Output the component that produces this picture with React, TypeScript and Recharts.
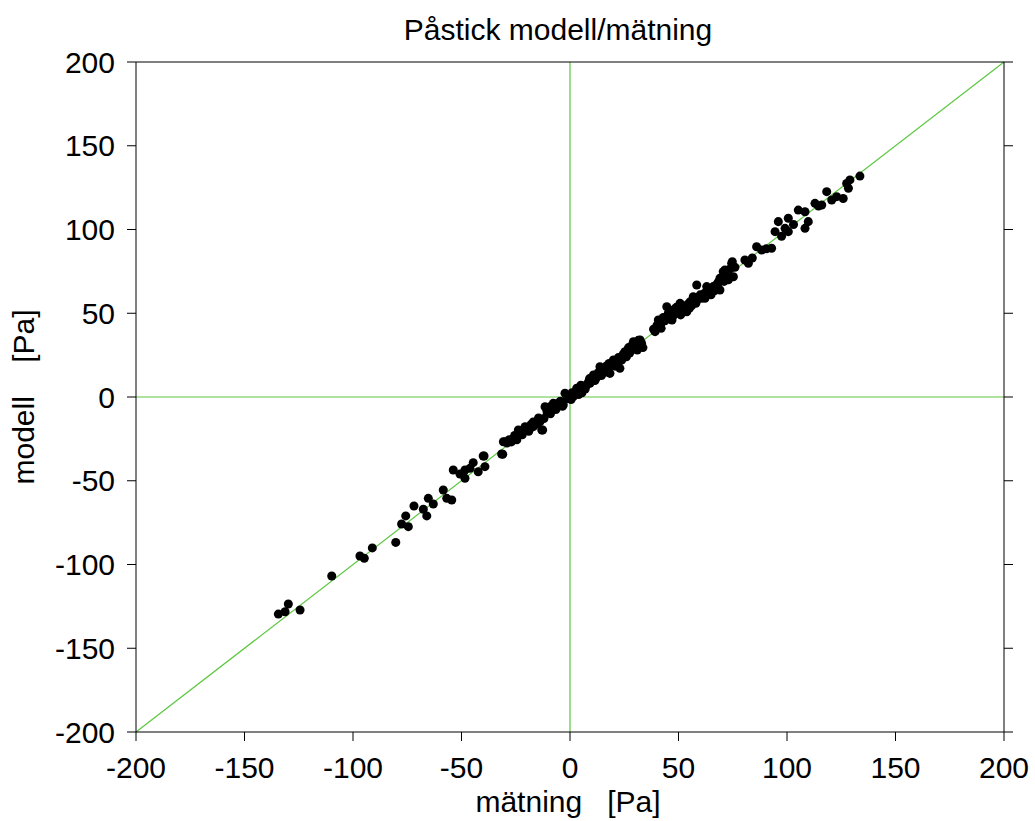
import {
  ScatterChart,
  Scatter,
  XAxis,
  YAxis,
  ZAxis,
  ReferenceLine,
} from "recharts";

// mätning [Pa]
const measured = [
  -134.4, -131.3, -129.8, -124.4, -109.8, -96.8, -94.8, -91.1, -80.3, -77.6,
  -75.7, -74.5, -71.9, -67.6, -66.0, -65.3, -63.0, -58.4, -56.8, -54.5,
  -53.8, -50.7, -48.4, -48.4, -46.1, -44.6, -42.3, -40.0, -39.6, -39.2,
  -31.5, -31.0, -30.7, -30.0, -29.0, -28.0, -27.0, -26.1, -25.5, -24.5,
  -23.8, -23.0, -22.0, -21.5, -20.7, -20.0, -19.0, -18.0, -16.9, -15.5,
  -14.5, -13.8, -13.0, -12.6, -12.0, -11.5, -10.7, -10.5, -9.2, -9.0,
  -8.5, -8.0, -7.7, -6.5, -5.5, -4.5, -3.5, -3.1, -2.3, -1.5,
  -0.5, 0.5, 1.5, 2.5, 3.1, 4.0, 4.8, 5.5, 6.1, 6.2,
  7.0, 7.7, 8.5, 9.2, 10.0, 10.8, 11.5, 12.2, 13.0, 13.8,
  14.5, 15.2, 16.0, 16.8, 17.5, 18.4, 19.0, 20.0, 20.8, 21.5,
  22.3, 23.0, 23.8, 24.5, 25.3, 26.0, 26.8, 27.5, 28.3, 29.2,
  30.0, 30.8, 31.5, 32.3, 32.3, 33.0, 33.6, 38.5, 39.2, 40.0,
  40.7, 41.5, 42.3, 43.0, 43.8, 44.6, 45.3, 46.1, 46.8, 47.5,
  48.3, 49.0, 49.8, 50.7, 51.5, 52.3, 53.0, 53.8, 54.5, 55.3,
  56.0, 56.8, 57.5, 58.4, 59.0, 60.0, 60.8, 61.4, 62.2, 63.0,
  63.8, 64.5, 65.2, 66.0, 66.8, 67.5, 68.3, 69.1, 69.1, 70.6,
  71.4, 72.2, 73.0, 73.8, 74.5, 74.8, 75.3, 76.0, 80.6, 82.2,
  84.0, 86.0, 88.3, 90.5, 92.9, 94.5, 96.0, 97.5, 99.1, 100.6,
  100.6, 103.0, 105.2, 108.3, 108.3, 109.8, 112.9, 114.5, 116.0, 118.3,
  120.6, 122.9, 125.9, 127.5, 128.3, 129.0, 133.6,
  5.0, 9.0, 14.0, 18.0, 22.0, 27.0, 31.0, 42.0, 47.0, 51.0,
  55.0, 58.0, 62.0, 65.0, 68.0, 71.0, -17.0, -6.0, 1.0, 11.0,
];

// modell [Pa]
const model = [
  -129.6, -128.2, -123.6, -127.2, -106.9, -94.9, -96.3, -90.1, -86.8, -75.8,
  -71.0, -77.4, -65.1, -67.0, -71.0, -60.5, -63.9, -55.5, -60.5, -61.5,
  -43.6, -46.0, -48.5, -43.6, -42.6, -39.2, -44.6, -35.2, -35.2, -41.6,
  -34.0, -34.2, -26.7, -26.7, -27.5, -25.5, -26.8, -24.7, -23.0, -25.5,
  -19.7, -20.7, -22.5, -19.5, -17.7, -18.7, -20.5, -16.5, -17.7, -16.0,
  -12.5, -14.7, -19.7, -19.7, -12.8, -5.8, -7.8, -9.5, -5.8, -10.0,
  -8.0, -6.5, -3.8, -7.5, -4.5, -2.5, -5.5, -4.8, 2.2, -1.0,
  0.5, -1.5, 0.2, 3.0, 5.2, 1.5, 4.0, 2.5, 6.1, 6.5,
  4.8, 7.2, 9.0, 8.2, 10.5, 13.1, 9.8, 11.5, 14.5, 18.1,
  12.8, 16.0, 14.8, 18.5, 16.2, 14.1, 19.5, 22.1, 18.4, 21.0,
  23.5, 17.1, 22.0, 25.5, 27.0, 24.0, 28.5, 26.2, 30.5, 33.0,
  29.0, 31.5, 33.8, 34.0, 30.0, 32.0, 29.5, 40.5, 39.0, 42.5,
  46.0, 43.0, 44.8, 47.5, 45.5, 53.9, 50.0, 49.0, 51.5, 48.5,
  52.5, 53.5, 50.5, 55.9, 52.0, 54.5, 53.0, 50.9, 55.5, 56.8,
  54.5, 59.9, 57.0, 66.9, 58.5, 61.0, 59.0, 59.9, 58.9, 65.9,
  63.0, 62.0, 64.5, 65.9, 63.5, 67.0, 68.5, 63.9, 70.9, 74.8,
  75.8, 72.5, 70.0, 76.5, 79.8, 80.8, 71.8, 77.5, 81.8, 79.8,
  83.0, 89.7, 87.8, 88.5, 88.8, 98.7, 104.7, 96.0, 100.7, 106.7,
  98.7, 103.0, 111.6, 110.6, 100.7, 104.7, 115.6, 114.0, 114.6, 122.6,
  117.6, 119.6, 118.5, 127.5, 124.6, 129.6, 131.9,
  7.0, 11.0, 15.5, 20.0, 20.0, 29.5, 28.0, 41.0, 46.0, 49.0,
  53.0, 56.0, 62.0, 61.0, 66.0, 69.0, -15.0, -4.0, 2.5, 12.5,
];

const axisTicks = [-200, -150, -100, -50, 0, 50, 100, 150, 200];

const points = measured.map((m, i) => ({ x: m, y: model[i] }));

const font = "'Liberation Sans', Arial, sans-serif";
const green = "#5cc840";
const tickStyle = { fontSize: 30, fill: "#000", fontFamily: font };

export default function App() {
  return (
    <div
      style={{
        position: "absolute",
        left: 0,
        top: 0,
        background: "#fff",
        fontFamily: font,
      }}
    >
      <ScatterChart
        width={1035}
        height={821}
        margin={{ top: 0, right: 0, bottom: 0, left: 0 }}
      >
        <XAxis
          xAxisId="b"
          type="number"
          dataKey="x"
          domain={[-200, 200]}
          ticks={axisTicks}
          allowDataOverflow
          height={89}
          tickSize={9}
          tickMargin={16}
          tick={tickStyle}
          stroke="#000"
          axisLine={{ stroke: "#000" }}
          tickLine={{ stroke: "#000" }}
          label={{
            value: "mätning\u00A0\u00A0\u00A0[Pa]",
            position: "insideBottom",
            offset: 9,
            fontSize: 30,
            fill: "#000",
            dx: -2,
          }}
        />
        <XAxis
          xAxisId="t"
          orientation="top"
          type="number"
          domain={[-200, 200]}
          ticks={axisTicks}
          allowDataOverflow
          height={62}
          tickSize={9}
          tickFormatter={() => ""}
          stroke="#000"
          axisLine={{ stroke: "#000" }}
          tickLine={{ stroke: "#000" }}
          label={{
            value: "Påstick modell/mätning",
            position: "insideTop",
            offset: 19,
            fontSize: 30,
            fill: "#000",
            dx: -12,
          }}
        />
        <YAxis
          yAxisId="l"
          type="number"
          dataKey="y"
          domain={[-200, 200]}
          ticks={axisTicks}
          allowDataOverflow
          width={136}
          tickSize={9}
          tickMargin={12}
          tick={tickStyle}
          stroke="#000"
          axisLine={{ stroke: "#000" }}
          tickLine={{ stroke: "#000" }}
          label={{
            value: "modell\u00A0\u00A0\u00A0\u00A0[Pa]",
            angle: -90,
            position: "insideLeft",
            offset: 23,
            fontSize: 30,
            fill: "#000",
            style: { textAnchor: "middle" },
          }}
        />
        <YAxis
          yAxisId="r"
          orientation="right"
          type="number"
          domain={[-200, 200]}
          ticks={axisTicks}
          allowDataOverflow
          width={31}
          tickSize={9}
          tickFormatter={() => ""}
          stroke="#000"
          axisLine={{ stroke: "#000" }}
          tickLine={{ stroke: "#000" }}
        />
        <ZAxis range={[60, 60]} />
        <Scatter
          data={points}
          xAxisId="b"
          yAxisId="l"
          fill="#000"
          isAnimationActive={false}
        />
        <ReferenceLine xAxisId="b" yAxisId="l" x={0} stroke={green} strokeWidth={1.2} />
        <ReferenceLine xAxisId="b" yAxisId="l" y={0} stroke={green} strokeWidth={1.2} />
        <ReferenceLine
          xAxisId="b"
          yAxisId="l"
          segment={[
            { x: -200, y: -200 },
            { x: 200, y: 200 },
          ]}
          stroke={green}
          strokeWidth={1.2}
        />
      </ScatterChart>
    </div>
  );
}
